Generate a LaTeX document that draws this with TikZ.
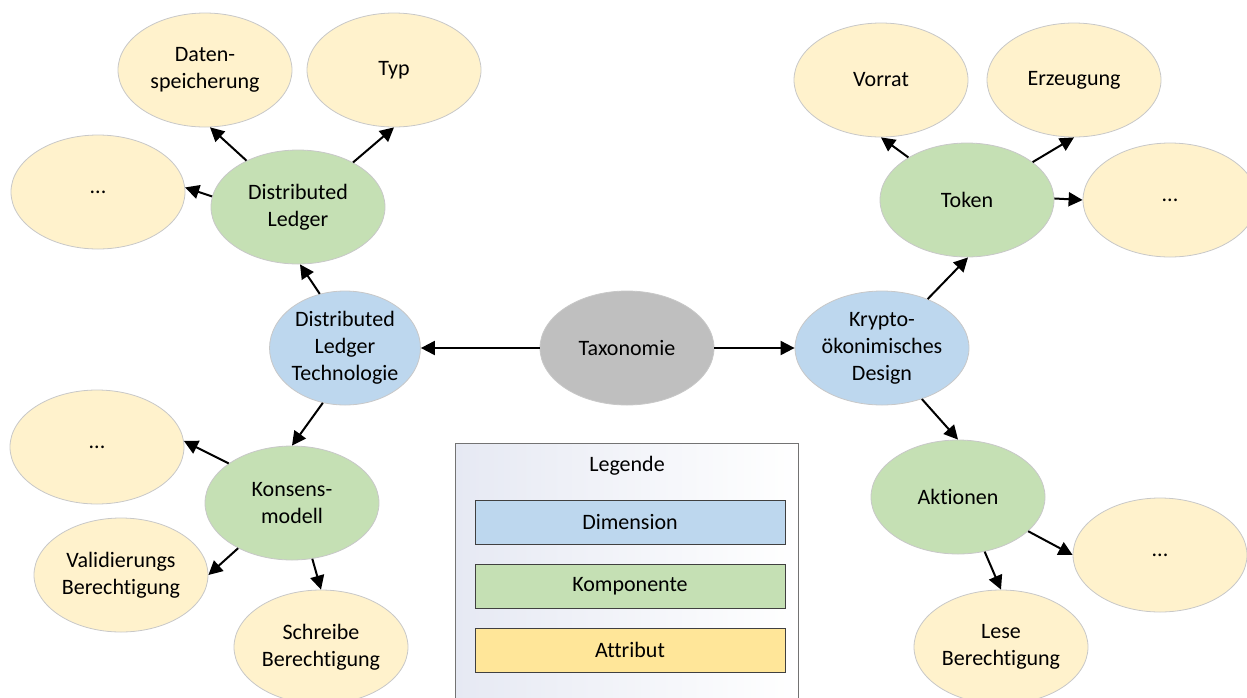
\documentclass[tikz,border=0pt]{standalone}
\usepackage{fontspec}
\setmainfont{Carlito}[Ligatures={NoCommon}]
\usetikzlibrary{shapes.geometric,arrows.meta}
\definecolor{dimc}{HTML}{BDD7EE}
\definecolor{compc}{HTML}{C5E0B4}
\definecolor{attrc}{HTML}{FFF2CC}
\definecolor{attrbox}{HTML}{FFE699}
\definecolor{rootc}{HTML}{BFBFBF}
\definecolor{rimc}{HTML}{C8C8C8}
\definecolor{legtop}{HTML}{E6E9F3}
\tikzset{
  bub/.style={ellipse, draw=rimc, line width=0.8pt, inner sep=0pt,
    minimum width=174pt, minimum height=114pt, align=center,
    font=\fontsize{22}{27}\selectfont},
  dimn/.style={bub, fill=dimc},
  compn/.style={bub, fill=compc},
  attrn/.style={bub, fill=attrc},
  rootn/.style={bub, fill=rootc},
  conn/.style={-{Triangle[length=14pt,width=14pt]}, line width=2pt, black},
  legbox/.style={draw=black!75, line width=0.8pt, minimum width=310pt,
    minimum height=44pt, inner sep=0pt, font=\fontsize{22}{27}\selectfont},
}
\begin{document}
\begin{tikzpicture}[x=1pt,y=-1pt]
\useasboundingbox (0,0) rectangle (1247,697);
\clip (0,0) rectangle (1247,697);

% legend
\path[draw=black!55, line width=0.8pt, left color=legtop, right color=white]
  (455,443) rectangle (798,720);
\node[font=\fontsize{22}{27}\selectfont] (leg) at (627,466) {Legende};
\node[legbox, fill=dimc] (lgdim) at (630,522.5) {Dimension};
\node[legbox, fill=compc] (lgcomp) at (630,586) {Komponente};
\node[legbox, fill=attrbox] (lgattr) at (630,650) {Attribut};

% main nodes
\node[rootn] (tax) at (627,348) {Taxonomie};
\node[dimn, minimum width=146pt] (dlt) at (345,348) {Distributed\\Ledger\\Technologie};
\node[dimn] (kry) at (882,348) {Krypto-\\ökonimisches\\Design};

\node[compn] (dl) at (298,207) {Distributed\\Ledger};
\node[compn] (kon) at (292,503) {Konsens-\\modell};
\node[compn] (tok) at (967,200) {Token};
\node[compn] (akt) at (958,497) {Aktionen};

\node[attrn] (dat) at (205,70) {Daten-\\speicherung};
\node[attrn] (typ) at (394,70) {Typ};
\node[attrn] (d1) at (98,192) {...};
\node[attrn] (d2) at (97,447) {...};
\node[attrn] (val) at (121,575) {Validierungs\\Berechtigung};
\node[attrn] (sch) at (321,647) {Schreibe\\Berechtigung};
\node[attrn] (vor) at (881,80) {Vorrat};
\node[attrn] (erz) at (1074,80) {Erzeugung};
\node[attrn] (d3) at (1170,200) {...};
\node[attrn] (d4) at (1160,555) {...};
\node[attrn] (les) at (1001,647) {Lese\\Berechtigung};

% connectors
\draw[conn] (tax.west) -- (dlt.east);
\draw[conn] (tax.east) -- (kry.west);
\draw[conn] (dlt.115) -- (dl.-88);
\draw[conn] (dlt.-112) -- (kon.90);
\draw[conn] (dl.138) -- (dat.-85);
\draw[conn] (dl.39) -- (typ.-90);
\draw[conn] (dl.173) -- (d1.3);
\draw[conn] (kon.148) -- (d2.4);
\draw[conn] (kon.-140) -- (val.0);
\draw[conn] (kon.-70) -- (sch.90);
\draw[conn] (kry.47) -- (tok.-89);
\draw[conn] (kry.-52) -- (akt.90);
\draw[conn] (tok.144) -- (vor.-90);
\draw[conn] (tok.30) -- (erz.-90);
\draw[conn] (tok.1) -- (d3.180);
\draw[conn] (akt.-26) -- (d4.180);
\draw[conn] (akt.-64) -- (les.90);
\end{tikzpicture}
\end{document}
